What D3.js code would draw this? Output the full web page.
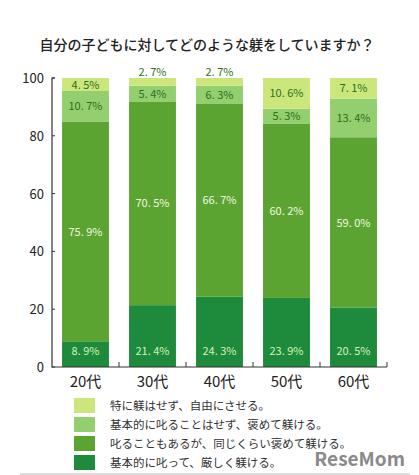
<!DOCTYPE html>
<html><head><meta charset="utf-8">
<script src="https://cdn.jsdelivr.net/npm/d3@7"></script>
<style>body{margin:0;background:#fff}text{font-family:"Noto Sans CJK JP",sans-serif}</style>
</head><body><svg id="c" width="419" height="475"></svg>
<script>
var ages = ["20代", "30代", "40代", "50代", "60代"];
var strict = [8.9, 21.4, 24.3, 23.9, 20.5];
var both = [75.9, 70.5, 66.7, 60.2, 59.0];
var praise = [10.7, 5.4, 6.3, 5.3, 13.4];
var free = [4.5, 2.7, 2.7, 10.6, 7.1];
var legendLabels = ["特に躾はせず、自由にさせる。", "基本的に叱ることはせず、褒めて躾ける。", "叱ることもあるが、同じくらい褒めて躾ける。", "基本的に叱って、厳しく躾ける。"];
var yTicks = [0, 20, 40, 60, 80, 100];

var colors = ["#1e8a3c", "#5ba431", "#93cf6f", "#cbe77c"];
var textColors = ["#d9f2b8", "#f0f8e0", "#2f6e1c", "#2f6e1c"];
var series = [strict, both, praise, free];

var svg = d3.select("#c");
svg.append("text").attr("x", 207).attr("y", 50).attr("text-anchor", "middle")
  .attr("font-size", 14).attr("font-weight", 500).attr("fill", "#222").text("自分の子どもに対してどのような躾をしていますか？");

var x = d3.scaleBand().domain(ages).range([52, 387]).paddingInner(0.3).paddingOuter(0.15);
var y = d3.scaleLinear().domain([0, 100]).range([367, 78]);

ages.forEach(function(a, i) {
  var base = 0;
  series.forEach(function(s, k) {
    var v = s[i];
    var top = k == 3 ? 100 : base + v;
    svg.append("rect").attr("x", x(a)).attr("width", x.bandwidth())
      .attr("y", y(top)).attr("height", y(base) - y(top)).attr("fill", colors[k]);
    var ly = k == 0 ? y(base) - 12 : (y(base) + y(top)) / 2 + 4;
    if (k == 3 && v < 4) ly = y(100) - 2;
    svg.append("text").attr("x", x(a) + x.bandwidth() / 2).attr("y", ly)
      .attr("text-anchor", "middle").attr("font-size", 11).attr("fill", textColors[k])
      .text(v.toFixed(1).replace(".", ". ") + "%");
    base = top;
  });
});

// axis
svg.append("path").attr("d", "M55," + y(100) + "H52V" + y(0) + "H387")
  .attr("fill", "none").attr("stroke", "#333").attr("stroke-width", 1.2);
yTicks.forEach(function(t) {
  svg.append("line").attr("x1", 52).attr("x2", 55).attr("y1", y(t)).attr("y2", y(t)).attr("stroke", "#333");
  svg.append("text").attr("x", 44).attr("y", y(t) + 5).attr("text-anchor", "end")
    .attr("font-size", 13).attr("fill", "#222").text(t);
});
ages.forEach(function(a) {
  var tx = x(a) + x.bandwidth() + x.step() * x.paddingInner() / 2;
  svg.append("line").attr("x1", tx).attr("x2", tx).attr("y1", y(0)).attr("y2", y(0) - 5).attr("stroke", "#333");
  svg.append("text").attr("x", x(a) + x.bandwidth() / 2).attr("y", 387).attr("text-anchor", "middle")
    .attr("font-size", 15).attr("fill", "#222").text(a);
});

// legend
var legendColors = [colors[3], colors[2], colors[1], colors[0]];
legendLabels.forEach(function(l, i) {
  var ly = 398 + i * 19;
  svg.append("rect").attr("x", 74).attr("y", ly).attr("width", 21).attr("height", 15).attr("fill", legendColors[i]);
  svg.append("text").attr("x", 110).attr("y", ly + 12).attr("font-size", 11.5).attr("fill", "#333").text(l);
});
svg.append("line").attr("x1", 20).attr("x2", 410).attr("y1", 474).attr("y2", 474).attr("stroke", "#bbb");
svg.append("text").attr("x", 405).attr("y", 466).attr("text-anchor", "end").attr("font-size", 19)
  .attr("font-weight", "bold").attr("fill", "#8a8a8a").attr("font-family", "Roboto").text("ReseMom");
</script></body></html>
